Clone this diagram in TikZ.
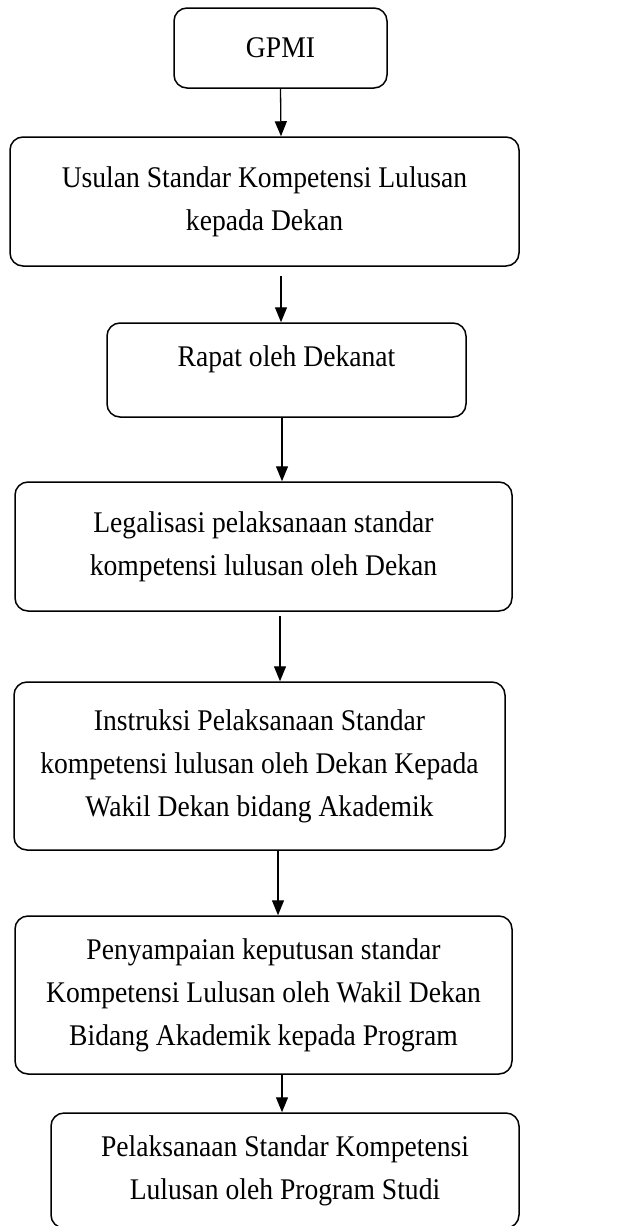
\documentclass[tikz,border=0pt]{standalone}
\usepackage{fontspec}
\setmainfont{Liberation Serif}[FakeStretch=0.92]
\usetikzlibrary{arrows.meta}
\usetikzlibrary{positioning}

\begin{document}
\begin{tikzpicture}[x=1pt,y=1pt,
  box/.style={draw,line width=1.5pt,rounded corners=13pt,align=center,
    inner sep=0pt,font=\fontsize{30}{43}\selectfont},
  flow/.style={line width=1.3pt,-{Triangle[width=12pt,length=15pt]}}]
\useasboundingbox (0,0) rectangle (632,-1226);

\node[box,minimum width=213,minimum height=80] (gpmi) at (280.5,-48) {GPMI};
\node[box,minimum width=509,minimum height=129] (usulan) at (264.5,-201.5)
  {Usulan Standar Kompetensi Lulusan\\kepada Dekan};
\node[box,minimum width=359,minimum height=94,text depth=28pt] (rapat) at (286.5,-370)
  {Rapat oleh Dekanat};
\node[box,minimum width=497,minimum height=129] (legal) at (263.5,-546.5)
  {Legalisasi pelaksanaan standar\\kompetensi lulusan oleh Dekan};
\node[box,minimum width=491,minimum height=168] (instruksi) at (259.5,-766)
  {Instruksi Pelaksanaan Standar\\kompetensi lulusan oleh Dekan Kepada\\Wakil Dekan bidang Akademik};
\node[box,minimum width=497,minimum height=158] (sampai) at (263.5,-995)
  {Penyampaian keputusan standar\\Kompetensi Lulusan oleh Wakil Dekan\\Bidang Akademik kepada Program};
\node[box,minimum width=468,minimum height=115] (prodi) at (285,-1170.5)
  {Pelaksanaan Standar Kompetensi\\Lulusan oleh Program Studi};

% panah alur
\draw[flow] (gpmi.south) -- ([xshift=16.5pt]usulan.north);
\draw[flow] ([xshift=16.5pt,yshift=-9pt]usulan.south) -- ([xshift=-5.5pt]rapat.north);
\draw[flow] ([xshift=-4.5pt]rapat.south) -- ([xshift=18.5pt]legal.north);
\draw[flow] ([xshift=16.5pt,yshift=-4pt]legal.south) -- ([xshift=20.5pt]instruksi.north);
\draw[flow] ([xshift=18.5pt]instruksi.south) -- ([xshift=14.5pt]sampai.north);
\draw[flow] ([xshift=18.5pt]sampai.south) -- ([xshift=-3pt]prodi.north);
\end{tikzpicture}
\end{document}
